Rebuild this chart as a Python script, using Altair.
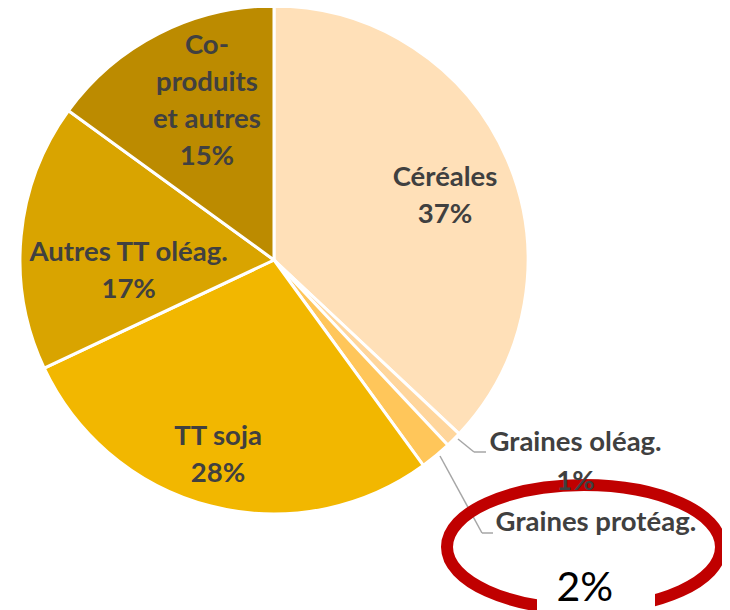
import altair as alt
import pandas as pd

# ---- data ----
categories = ["Céréales", "Graines oléag.", "Graines protéag.", "TT soja",
              "Autres TT oléag.", "Co-produits et autres"]
values = [37, 1, 2, 28, 17, 15]
labels = ["Céréales\n37%", "Graines oléag.\n1%", "Graines protéag.", "TT soja\n28%",
          "Autres TT oléag.\n17%", "Co-\nproduits\net autres\n15%"]
highlight_text = "2%"
colors = ["#FFE0B8", "#FFD69C", "#FFC65A", "#F2B700", "#D9A400", "#BC8B00"]

df = pd.DataFrame({"cat": categories, "value": values, "label": labels,
                   "idx": list(range(len(categories)))})

FONT = "Lato"
TXT = "#404040"
CX, CY, R = 266, 252, 254
FS = 27.5

base = alt.Chart(df).encode(
    theta=alt.Theta("value:Q", stack=True),
    order=alt.Order("idx:Q"),
    x=alt.value(CX),
    y=alt.value(CY),
)

pie = base.mark_arc(outerRadius=R, stroke="white", strokeWidth=3).encode(
    color=alt.Color("cat:N", scale=alt.Scale(domain=categories, range=colors), legend=None)
)


def lab(cat, r, dx, dy, size=FS, lh=37, weight="bold", color=TXT, text_expr=None):
    expr = text_expr if text_expr else "datum.label"
    return base.transform_calculate(
        t=f"datum.cat == '{cat}' ? {expr} : ''"
    ).mark_text(
        radius=r, dx=dx, dy=dy, fontSize=size, font=FONT, fontWeight=weight,
        color=color, lineBreak="\n", lineHeight=lh, align="center", baseline="middle"
    ).encode(text="t:N")


def seg(x1, y1, x2, y2):
    return alt.Chart(df).mark_rule(color="#A6A6A6", strokeWidth=1.5).encode(
        x=alt.value(x1), y=alt.value(y1), x2=alt.value(x2), y2=alt.value(y2)
    ).transform_filter("datum.idx == 0")


leaders = [
    seg(450, 431, 466, 444), seg(466, 444, 478, 444),
    seg(432, 448, 474, 525), seg(474, 525, 485, 525),
]

k = 0.5523
b = 0.4526
kb = round(k * b, 4)
ell_path = (f"M -1 0 C -1 {-kb} {-k} {-b} 0 {-b} C {k} {-b} 1 {-kb} 1 0 "
            f"C 1 {kb} {k} {b} 0 {b} C {-k} {b} -1 {kb} -1 0 Z")

ellipse = alt.Chart(df).mark_point(
    shape=ell_path, size=274 * 274, stroke="#C00000", strokeWidth=12, opacity=1, filled=False
).encode(x=alt.value(576), y=alt.value(539)).transform_filter("datum.idx == 0")

cover = alt.Chart(df).mark_rect(color="white").encode(
    x=alt.value(529), x2=alt.value(647), y=alt.value(567), y2=alt.value(610)
).transform_filter("datum.idx == 0")

texts = [
    lab("Céréales", 182, 4, -10),
    lab("TT soja", 201, -6, -18),
    lab("Autres TT oléag.", 146, 0, 7),
    lab("Co-produits et autres", 172, 11, -61),
    lab("Graines oléag.", 254, 122, 3, lh=39),
    lab("Graines protéag.", 254, 160, 67),
    lab("Graines protéag.", 254, 149, 133, size=41, weight="normal", color="#000000",
        text_expr=f"'{highlight_text}'"),
]

chart = alt.layer(pie, *leaders, ellipse, cover, *texts).properties(
    width=714, height=602, autosize=alt.AutoSizeParams(type="none"), padding=0,
    background="white"
).configure_view(stroke=None)

chart.save("out.html", embed_options={"renderer": "svg", "actions": False})
